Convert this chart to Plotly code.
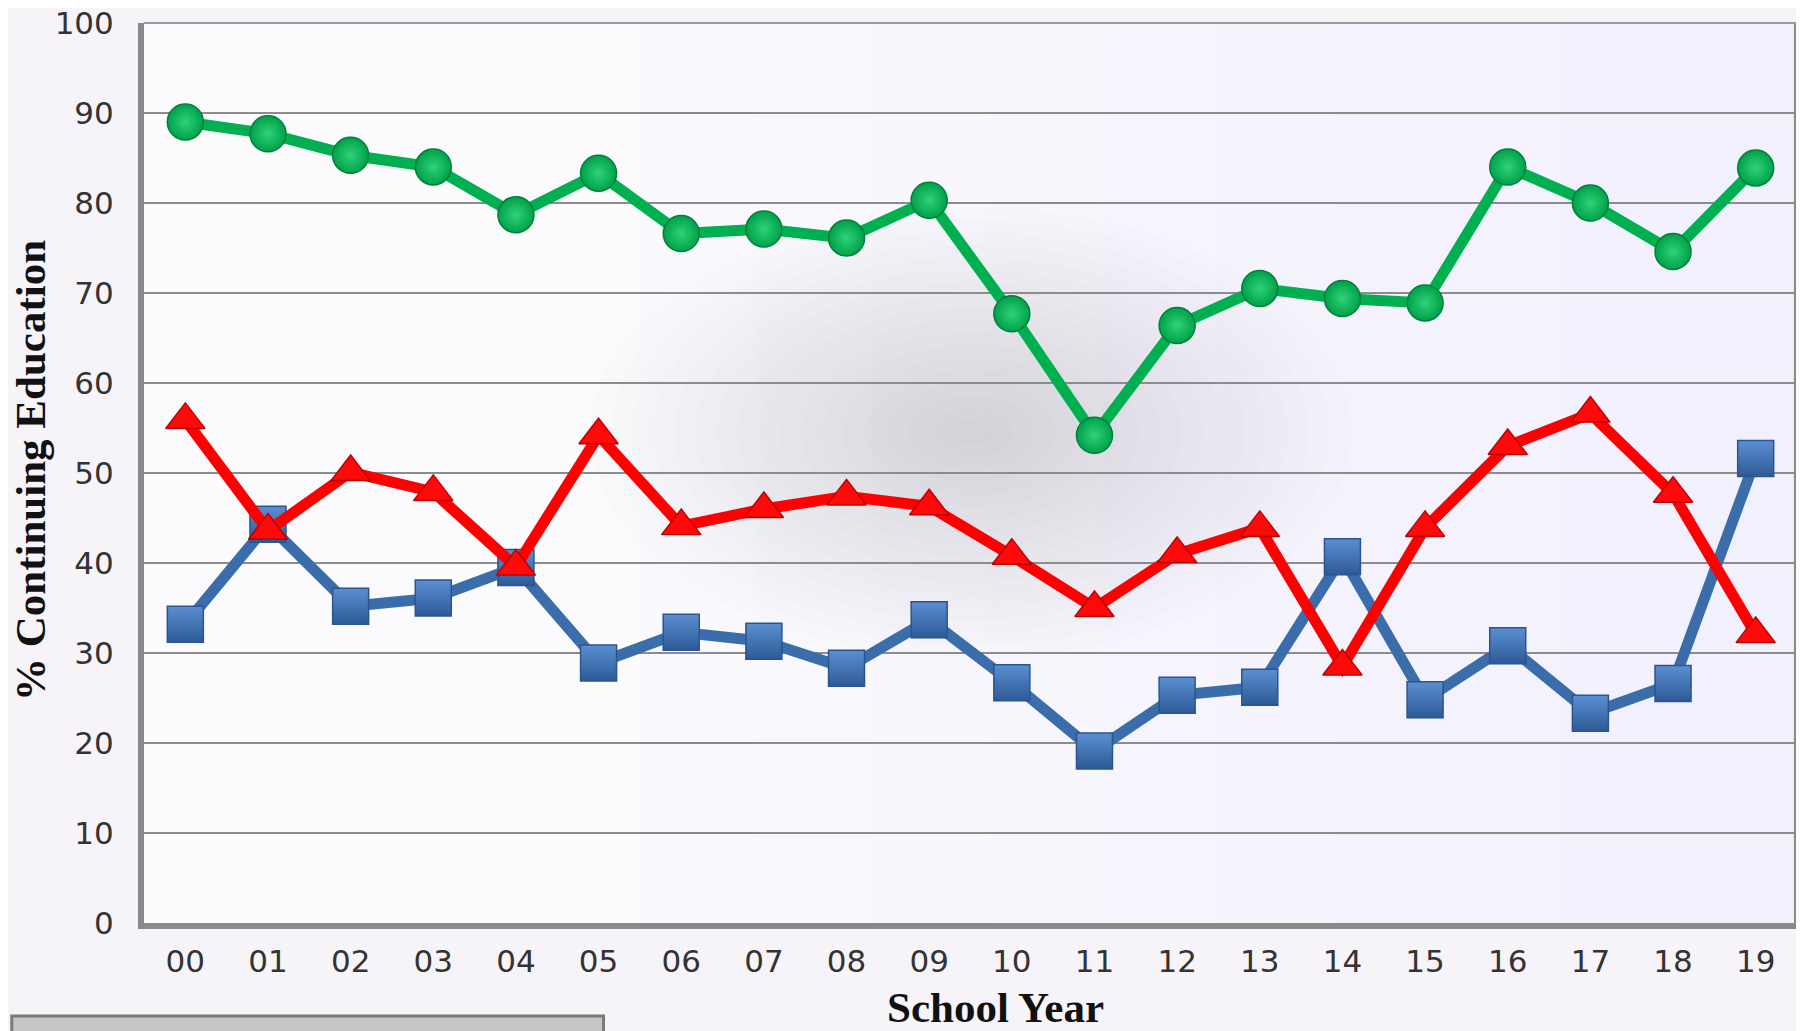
import plotly.graph_objects as go

years = ["00", "01", "02", "03", "04", "05", "06", "07", "08", "09",
         "10", "11", "12", "13", "14", "15", "16", "17", "18", "19"]

green_vals = [89.0, 87.7, 85.3, 84.0, 78.7, 83.3, 76.6, 77.1, 76.1, 80.3,
              67.7, 54.2, 66.4, 70.5, 69.4, 68.9, 84.0, 80.0, 74.6, 83.9]
red_vals = [55.9, 43.6, 50.1, 47.9, 39.6, 54.2, 44.1, 46.0, 47.4, 46.3,
            40.8, 35.0, 41.0, 43.9, 28.5, 43.9, 53.0, 56.6, 47.7, 32.1]
blue_vals = [33.2, 44.3, 35.2, 36.1, 39.5, 28.9, 32.3, 31.3, 28.3, 33.7,
             26.7, 19.1, 25.3, 26.2, 40.7, 24.8, 30.8, 23.3, 26.6, 51.6]

y_ticks = [0, 10, 20, 30, 40, 50, 60, 70, 80, 90, 100]

fig = go.Figure()

fig.add_trace(go.Scatter(
    x=years, y=blue_vals, mode="lines+markers", name="Blue",
    line=dict(color="#3c6dab", width=11),
    marker=dict(symbol="square", size=36, color="#5b8fd2",
                gradient=dict(type="vertical", color="#2d5a96"),
                line=dict(color="#2a558e", width=1.5)),
))
fig.add_trace(go.Scatter(
    x=years, y=red_vals, mode="lines+markers", name="Red",
    line=dict(color="#ff0000", width=11),
    marker=dict(symbol="triangle-up", size=34, color="#ff0a0a",
                line=dict(color="#c00000", width=1.5)),
))
fig.add_trace(go.Scatter(
    x=years, y=green_vals, mode="lines+markers", name="Green",
    line=dict(color="#00b050", width=11),
    marker=dict(symbol="circle", size=36, color="#00a249",
                gradient=dict(type="radial", color="#2fd279"),
                line=dict(color="#00803a", width=1.5)),
))

shapes = []
# lavender tint on the right part of the plot area
for i in range(10):
    x0 = 0.30 + i * 0.07
    shapes.append(dict(type="rect", xref="paper", yref="paper",
                       x0=x0, x1=1, y0=0, y1=1,
                       fillcolor="rgba(200,190,225,0.016)", line=dict(width=0),
                       layer="below"))
# soft grey shadow in the middle of the plot
n_rings = 18
for i in range(n_rings):
    f = 1 - i / n_rings
    rx = 0.23 * f
    ry = 0.25 * f
    cx, cy = 0.5, 0.545
    shapes.append(dict(type="circle", xref="paper", yref="paper",
                       x0=cx - rx, x1=cx + rx, y0=cy - ry, y1=cy + ry,
                       fillcolor="rgba(105,100,115,0.016)", line=dict(width=0),
                       layer="below"))
# frame lines: right (thick) and top (thin)
shapes.append(dict(type="line", xref="paper", yref="paper", x0=1, x1=1, y0=0, y1=1,
                   line=dict(color="#8a8a8a", width=6)))
shapes.append(dict(type="line", xref="paper", yref="paper", x0=0, x1=1, y0=1, y1=1,
                   line=dict(color="#9a9a9a", width=2)))
# cut-off legend box at bottom left
shapes.append(dict(type="rect", xref="paper", yref="paper",
                   x0=-0.080, x1=0.278, y0=-0.1033, y1=-0.14,
                   fillcolor="#c6c6c6", line=dict(color="#7a7a7a", width=3)))

fig.update_layout(
    width=1796, height=1023,
    margin=dict(l=136, r=7, t=15, b=108, autoexpand=False),
    paper_bgcolor="#f6f4f9",
    plot_bgcolor="#fbfafd",
    showlegend=False,
    shapes=shapes,
    annotations=[
        dict(text="School Year", xref="paper", yref="paper", x=0.515, y=-0.122,
             xanchor="center", yanchor="bottom", showarrow=False,
             font=dict(family="Liberation Serif", size=43, color="#111111", weight="bold")),
        dict(text="% Continuing Education", xref="paper", yref="paper", x=-0.0685, y=0.503,
             xanchor="center", yanchor="middle", showarrow=False, textangle=-90,
             font=dict(family="Liberation Serif", size=43, color="#111111", weight="bold")),
    ],
)

fig.update_xaxes(
    type="category", categoryorder="array", categoryarray=years,
    range=[-0.5, 19.5], automargin=False,
    showgrid=False, zeroline=False,
    showline=True, linecolor="#8a8a8a", linewidth=6,
    ticks="outside", ticklen=6, tickcolor="rgba(0,0,0,0)",
    tickfont=dict(family="DejaVu Sans", size=31, color="#333333"),
)
fig.update_yaxes(
    range=[0, 100], tickvals=y_ticks, automargin=False,
    showgrid=True, gridcolor="#8c8c8c", gridwidth=2,
    zeroline=False,
    showline=True, linecolor="#8a8a8a", linewidth=6,
    ticks="outside", ticklen=18, tickcolor="rgba(0,0,0,0)",
    ticklabeloverflow="allow",
    tickfont=dict(family="DejaVu Sans", size=31, color="#333333"),
)

fig.write_html("out.html")
